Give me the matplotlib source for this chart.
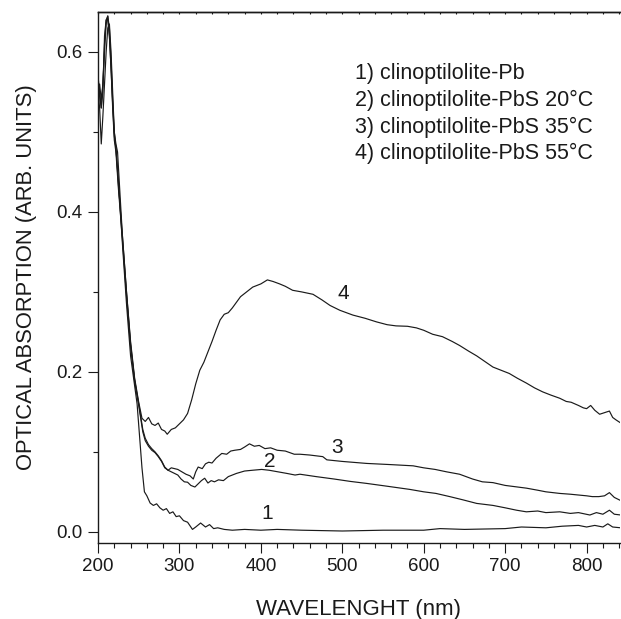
import matplotlib
matplotlib.use("Agg")
import matplotlib.pyplot as plt
from matplotlib.ticker import MultipleLocator, FormatStrFormatter

# curve 1) clinoptilolite-Pb
wl_1 = [200, 202, 204, 206, 208, 210, 212, 214, 216, 218, 220, 222, 225, 230, 235,
        240, 244, 248, 251, 254, 257, 260, 264, 268, 272, 276, 280, 284, 288, 292,
        296, 300, 305, 310, 316, 320, 326, 332, 337, 342, 347, 355, 365, 380, 400,
        420, 450, 500, 550, 600, 620, 650, 700, 720, 750, 770, 790, 800, 810, 820,
        826, 832, 842]
abs_1 = [0.56, 0.545, 0.53, 0.56, 0.60, 0.635, 0.645, 0.63, 0.59, 0.54, 0.50, 0.48, 0.44,
         0.36, 0.285, 0.22, 0.19, 0.16, 0.12, 0.08, 0.05, 0.045, 0.036, 0.033, 0.035, 0.030,
         0.027, 0.029, 0.023, 0.025, 0.019, 0.020, 0.014, 0.012, 0.003, 0.006, 0.011, 0.006,
         0.009, 0.004, 0.005, 0.003, 0.002, 0.003, 0.002, 0.003, 0.002, 0.001, 0.002, 0.002,
         0.004, 0.003, 0.004, 0.006, 0.005, 0.007, 0.008, 0.006, 0.008, 0.006, 0.010, 0.006,
         0.005]

# curve 2) clinoptilolite-PbS 20 C
wl_2 = [200, 202, 204, 206, 208, 210, 212, 214, 216, 218, 220, 222, 224, 226, 230, 235,
        240, 245, 250, 255, 258, 262, 266, 270, 274, 278, 282, 286, 290, 294, 298, 302,
        306, 310, 314, 319, 323, 327, 331, 335, 339, 343, 348, 354, 360, 370, 380, 390,
        401, 410, 421, 432, 442, 448, 468, 490, 510, 530, 555, 583, 600, 615, 632, 648,
        665, 685, 700, 714, 726, 740, 750, 767, 780, 790, 804, 812, 820, 828, 834, 842]
abs_2 = [0.55, 0.53, 0.485, 0.52, 0.56, 0.60, 0.63, 0.635, 0.60, 0.55, 0.50, 0.485, 0.475,
         0.44, 0.37, 0.30, 0.235, 0.19, 0.16, 0.128, 0.117, 0.109, 0.104, 0.100, 0.095, 0.089,
         0.081, 0.077, 0.075, 0.073, 0.071, 0.066, 0.0625, 0.062, 0.058, 0.056, 0.060, 0.064,
         0.067, 0.061, 0.064, 0.0625, 0.065, 0.064, 0.069, 0.073, 0.076, 0.077, 0.078, 0.077,
         0.075, 0.073, 0.071, 0.072, 0.069, 0.066, 0.063, 0.0605, 0.057, 0.053, 0.050, 0.048,
         0.044, 0.040, 0.0355, 0.033, 0.030, 0.027, 0.025, 0.026, 0.024, 0.025, 0.023, 0.024,
         0.021, 0.024, 0.022, 0.027, 0.022, 0.021]

# curve 3) clinoptilolite-PbS 35 C
wl_3 = [200, 202, 204, 206, 208, 210, 212, 214, 216, 218, 220, 222, 225, 230, 235, 240,
        245, 250, 255, 258, 262, 266, 270, 274, 278, 282, 286, 290, 294, 298, 303, 308,
        313, 317, 320, 323, 328, 332, 336, 340, 345, 352, 358, 363, 368, 375, 380, 386,
        392, 398, 405, 412, 420, 430, 441, 448, 460, 476, 481, 500, 530, 560, 587, 600,
        614, 628, 644, 660, 672, 685, 700, 726, 740, 750, 767, 780, 790, 800, 807, 815,
        822, 828, 834, 842]
abs_3 = [0.52, 0.56, 0.54, 0.56, 0.61, 0.64, 0.64, 0.62, 0.58, 0.53, 0.49, 0.475, 0.43,
         0.365, 0.295, 0.232, 0.188, 0.158, 0.125, 0.114, 0.107, 0.102, 0.099, 0.094, 0.088,
         0.080, 0.077, 0.080, 0.079, 0.078, 0.075, 0.072, 0.070, 0.066, 0.075, 0.081, 0.079,
         0.085, 0.087, 0.086, 0.092, 0.098, 0.097, 0.101, 0.102, 0.103, 0.106, 0.110, 0.107,
         0.108, 0.104, 0.105, 0.102, 0.101, 0.097, 0.097, 0.096, 0.094, 0.090, 0.088, 0.0855,
         0.084, 0.0825, 0.080, 0.078, 0.075, 0.072, 0.066, 0.0625, 0.0615, 0.058, 0.0546,
         0.052, 0.050, 0.048, 0.047, 0.046, 0.045, 0.044, 0.044, 0.045, 0.049, 0.043, 0.039]

# curve 4) clinoptilolite-PbS 55 C
wl_4 = [200, 202, 204, 206, 208, 210, 212, 214, 216, 218, 220, 222, 225, 230, 235, 240,
        245, 250, 254, 258, 262, 266, 270, 274, 278, 282, 285, 290, 295, 300, 305, 310,
        315, 320, 325, 330, 335, 340, 345, 350, 355, 360, 365, 370, 375, 380, 390, 400,
        408, 415, 423, 430, 439, 450, 464, 475, 485, 497, 513, 528, 542, 555, 566, 580,
        591, 600, 611, 623, 635, 644, 655, 665, 675, 685, 695, 705, 715, 726, 736, 746,
        756, 767, 775, 781, 790, 796, 800, 805, 810, 816, 822, 828, 832, 836, 842]
abs_4 = [0.57, 0.55, 0.53, 0.55, 0.62, 0.64, 0.645, 0.62, 0.58, 0.535, 0.495, 0.48, 0.435,
         0.37, 0.30, 0.238, 0.192, 0.162, 0.142, 0.138, 0.143, 0.135, 0.133, 0.136, 0.128,
         0.126, 0.122, 0.128, 0.130, 0.135, 0.140, 0.148, 0.165, 0.185, 0.202, 0.212, 0.225,
         0.238, 0.252, 0.265, 0.272, 0.274, 0.280, 0.287, 0.294, 0.298, 0.306, 0.310, 0.315,
         0.313, 0.310, 0.307, 0.302, 0.300, 0.297, 0.290, 0.283, 0.277, 0.271, 0.267, 0.2625,
         0.259, 0.2575, 0.257, 0.255, 0.252, 0.247, 0.244, 0.238, 0.233, 0.226, 0.220, 0.213,
         0.206, 0.202, 0.198, 0.192, 0.186, 0.180, 0.175, 0.171, 0.167, 0.163, 0.162, 0.158,
         0.155, 0.154, 0.158, 0.152, 0.147, 0.149, 0.151, 0.143, 0.140, 0.136]

curve_labels = ["1", "2", "3", "4"]
label_x = [408, 411, 493, 501]
label_y = [0.023, 0.0875, 0.106, 0.298]

legend_lines = [
    "1) clinoptilolite-Pb",
    "2) clinoptilolite-PbS 20°C",
    "3) clinoptilolite-PbS 35°C",
    "4) clinoptilolite-PbS 55°C",
]
legend_y = [0.573, 0.540, 0.506, 0.473]

TEXT_COLOR = "#1a1a1a"
plt.rcParams.update({
    "font.family": ["Liberation Sans", "DejaVu Sans"],
    "text.color": TEXT_COLOR,
    "axes.labelcolor": TEXT_COLOR,
    "xtick.color": TEXT_COLOR,
    "ytick.color": TEXT_COLOR,
})

fig = plt.figure(figsize=(6.21, 6.19), dpi=100)
ax = fig.add_axes([98 / 621, 76 / 619, 522 / 621, 531 / 619])

for wl, ab in [(wl_1, abs_1), (wl_2, abs_2), (wl_3, abs_3), (wl_4, abs_4)]:
    ax.plot(wl, ab, color="#1a1a1a", linewidth=0.85)

for lab, lx, ly in zip(curve_labels, label_x, label_y):
    ax.text(lx, ly, lab, fontsize=15, ha="center", va="center")

for line, ly in zip(legend_lines, legend_y):
    ax.text(516, ly, line, fontsize=15.5, ha="left", va="center")

ax.set_xlim(200, 841)
ax.set_ylim(-0.014, 0.65)
ax.xaxis.set_major_locator(MultipleLocator(100))
ax.xaxis.set_minor_locator(MultipleLocator(20))
ax.yaxis.set_major_locator(MultipleLocator(0.2))
ax.yaxis.set_minor_locator(MultipleLocator(0.1))
ax.yaxis.set_major_formatter(FormatStrFormatter("%.1f"))

ax.tick_params(which="major", direction="out", length=7, width=0.8, labelsize=13.5, pad=4)
ax.tick_params(which="minor", direction="out", length=3.6, width=0.8)

top = ax.secondary_xaxis("top")
top.xaxis.set_major_locator(MultipleLocator(20))
top.tick_params(direction="in", length=1.5, width=0.8, labeltop=False)
top.spines["top"].set_linewidth(1.0)

ax.spines["right"].set_visible(False)
for s in ("left", "bottom", "top"):
    ax.spines[s].set_linewidth(1.0)
    ax.spines[s].set_color("#1a1a1a")

ax.set_xlabel("WAVELENGHT (nm)", fontsize=16, labelpad=17)
ax.set_ylabel("OPTICAL ABSORPTION (ARB. UNITS)", fontsize=15.8, labelpad=14)

fig.savefig("out.png", dpi=100)
